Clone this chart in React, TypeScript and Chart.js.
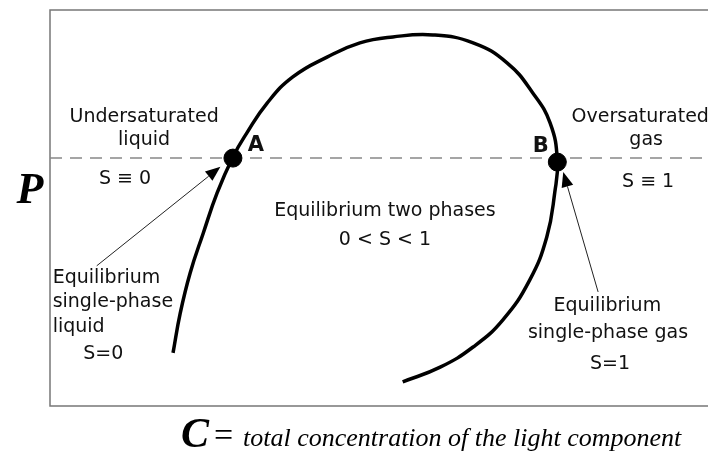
import React, { useEffect, useRef } from "react";
import { Chart, registerables } from "chart.js";
Chart.register(...registerables);

// Phase envelope (C, P) in arbitrary units 0..100
const envelopeC = [18.7, 19.8, 21.3, 23.3, 25.4, 27.8, 29.9, 33.0, 36.9, 42.1, 47.1, 52.1, 58.2, 64.3, 69.5, 73.4, 76.0, 77.1, 76.7, 75.5, 72.9, 68.8, 64.3, 59.3, 53.6];
const envelopeP = [13.4, 23.5, 33.6, 43.7, 53.8, 62.9, 68.9, 76.5, 83.1, 88.1, 91.7, 93.2, 93.7, 91.7, 86.6, 79.0, 71.5, 62.1, 53.8, 42.7, 31.8, 21.7, 14.9, 9.8, 6.1];
const pointNames = ["A", "B"];
const pointC = [27.8, 77.1];
const pointP = [62.6, 61.6];
const pressureLevel = 62.6;

type Lbl = { t: string; x: number; y: number; align?: CanvasTextAlign };
const labels: Lbl[] = [
  { t: "Undersaturated", x: 14.3, y: 73.0 },
  { t: "liquid", x: 14.3, y: 67.2 },
  { t: "S \u2261 0", x: 11.4, y: 57.3 },
  { t: "Equilibrium two phases", x: 50.9, y: 49.2 },
  { t: "0 < S < 1", x: 50.9, y: 41.9 },
  { t: "Oversaturated", x: 89.7, y: 73.0 },
  { t: "gas", x: 90.6, y: 67.2 },
  { t: "S \u2261 1", x: 90.9, y: 56.6 },
  { t: "Equilibrium", x: 0.4, y: 32.3, align: "left" },
  { t: "single-phase", x: 0.4, y: 26.3, align: "left" },
  { t: "liquid", x: 0.4, y: 19.9, align: "left" },
  { t: "S=0", x: 8.1, y: 13.1 },
  { t: "Equilibrium", x: 84.7, y: 25.3 },
  { t: "single-phase gas", x: 84.8, y: 18.4 },
  { t: "S=1", x: 85.1, y: 10.6 },
];
const pointLabelPos = [
  { x: 31.3, y: 65.7 },
  { x: 74.6, y: 65.4 },
];
// arrows: tail -> tip
const arrows = [
  { x0: 7.1, y0: 35.4, x1: 25.9, y1: 60.4 },
  { x0: 83.3, y0: 28.8, x1: 78.0, y1: 59.1 },
];

const FONT = '"DejaVu Sans", sans-serif';

const annotations = {
  id: "annotations",
  beforeDatasetsDraw(chart: any) {
    const { ctx, chartArea: a } = chart;
    ctx.save();
    ctx.strokeStyle = "#777";
    ctx.lineWidth = 1.5;
    ctx.beginPath();
    ctx.moveTo(a.right, a.top);
    ctx.lineTo(a.left, a.top);
    ctx.lineTo(a.left, a.bottom);
    ctx.lineTo(a.right, a.bottom);
    ctx.stroke();
    ctx.restore();
  },
  afterDatasetsDraw(chart: any) {
    const { ctx, scales } = chart;
    const xs = scales.x, ys = scales.y;
    ctx.save();
    ctx.fillStyle = "#111";
    ctx.textBaseline = "middle";
    ctx.font = `19px ${FONT}`;
    for (const l of labels) {
      ctx.textAlign = l.align || "center";
      ctx.fillText(l.t, xs.getPixelForValue(l.x), ys.getPixelForValue(l.y));
    }
    ctx.font = `bold 21px ${FONT}`;
    ctx.textAlign = "center";
    pointNames.forEach((n, i) => {
      ctx.fillText(n, xs.getPixelForValue(pointLabelPos[i].x), ys.getPixelForValue(pointLabelPos[i].y));
    });
    // arrows
    ctx.strokeStyle = "#222";
    ctx.fillStyle = "#000";
    ctx.lineWidth = 1;
    for (const ar of arrows) {
      const x0 = xs.getPixelForValue(ar.x0), y0 = ys.getPixelForValue(ar.y0);
      const x1 = xs.getPixelForValue(ar.x1), y1 = ys.getPixelForValue(ar.y1);
      const ang = Math.atan2(y1 - y0, x1 - x0);
      const L = 15, W = 6;
      const bx = x1 - L * Math.cos(ang), by = y1 - L * Math.sin(ang);
      ctx.beginPath();
      ctx.moveTo(x0, y0);
      ctx.lineTo(bx, by);
      ctx.stroke();
      ctx.beginPath();
      ctx.moveTo(x1, y1);
      ctx.lineTo(bx + W * Math.sin(ang), by - W * Math.cos(ang));
      ctx.lineTo(bx - W * Math.sin(ang), by + W * Math.cos(ang));
      ctx.closePath();
      ctx.fill();
    }
    // axis titles
    ctx.fillStyle = "#000";
    ctx.textBaseline = "alphabetic";
    ctx.textAlign = "center";
    ctx.font = `italic bold 44px "Liberation Serif", serif`;
    ctx.fillText("P", 30, 203);
    ctx.textAlign = "left";
    ctx.font = `italic bold 42px "Liberation Serif", serif`;
    ctx.fillText("C", 181, 447);
    ctx.font = `34px "Liberation Serif", serif`;
    ctx.fillText("=", 214, 446);
    ctx.font = `italic 26px "Liberation Serif", serif`;
    ctx.fillText("total concentration of the light component", 243, 446);
    ctx.restore();
  },
};

export default function App() {
  const ref = useRef<HTMLCanvasElement | null>(null);
  useEffect(() => {
    document.body.style.margin = "0";
    const c = ref.current!;
    const chart = new Chart(c, {
      type: "scatter",
      data: {
        datasets: [
          {
            label: "P level",
            data: [{ x: 0, y: pressureLevel }, { x: 100, y: pressureLevel }],
            showLine: true,
            borderColor: "#888",
            borderWidth: 1.5,
            borderDash: [12, 8],
            pointRadius: 0,
            order: 3,
          },
          {
            label: "envelope",
            data: envelopeC.map((x, i) => ({ x, y: envelopeP[i] })),
            showLine: true,
            borderColor: "#000",
            borderWidth: 3.5,
            tension: 0.45,
            pointRadius: 0,
            order: 2,
          },
          {
            label: "points",
            data: pointC.map((x, i) => ({ x, y: pointP[i] })),
            pointRadius: 9,
            backgroundColor: "#000",
            borderColor: "#000",
            order: 1,
          },
        ],
      },
      options: {
        responsive: false,
        animation: false,
        layout: { autoPadding: false, padding: { left: 50, top: 10, right: 0, bottom: 48 } },
        plugins: { legend: { display: false }, tooltip: { enabled: false } },
        scales: {
          x: { type: "linear", min: 0, max: 100, display: false },
          y: { type: "linear", min: 0, max: 100, display: false },
        },
      },
      plugins: [annotations],
    });
    return () => chart.destroy();
  }, []);
  return <canvas ref={ref} width={708} height={454} style={{ display: "block" }} />;
}
